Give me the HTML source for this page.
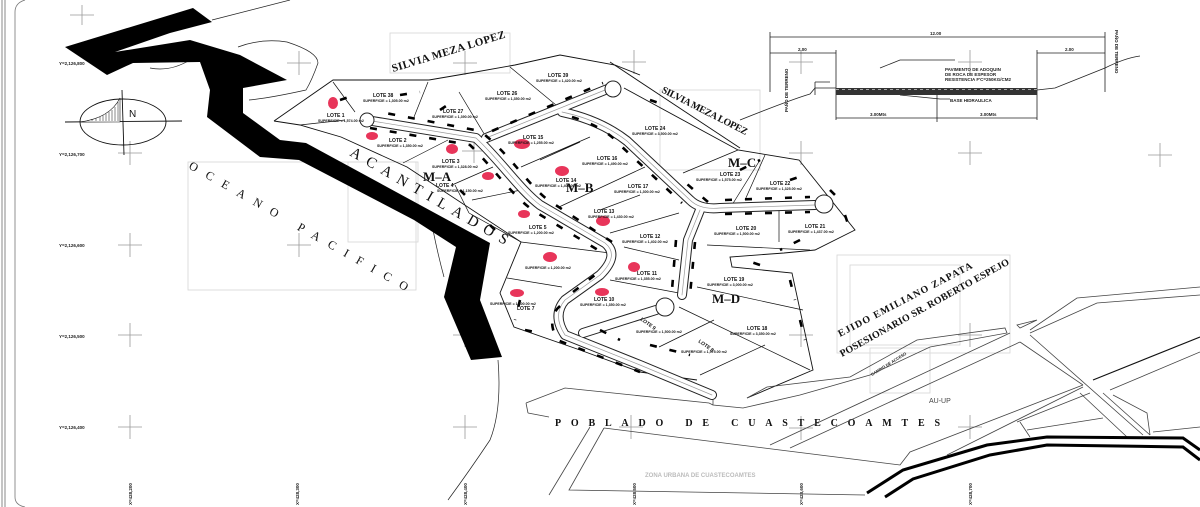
<!DOCTYPE html>
<html><head><meta charset="utf-8"><style>
html,body{margin:0;padding:0;background:#fff;}
svg{display:block;font-family:"Liberation Sans",sans-serif;}
.s{font-family:"Liberation Serif",serif;font-weight:bold;}
.l{font-size:5px;font-weight:bold;}
.sp{font-size:3.6px;font-weight:bold;}
</style></head><body>
<svg width="1200" height="507" viewBox="0 0 1200 507" xmlns="http://www.w3.org/2000/svg">
<rect width="1200" height="507" fill="#fff"/>
<line x1="2" y1="0" x2="2" y2="507" stroke="#888" stroke-width="1"/>
<line x1="5" y1="0" x2="5" y2="507" stroke="#888" stroke-width="1"/>
<path d="M25,0 Q15,3 15,12 L15,497 Q15,505 25,507" fill="none" stroke="#777" stroke-width="0.8"/>

<g fill="none" stroke="#d6d6d6" stroke-width="0.8">
<rect x="188" y="162" width="228" height="128"/>
<rect x="348" y="162" width="70" height="80"/>
<rect x="390" y="33" width="120" height="40"/>
<rect x="660" y="90" width="100" height="80"/>
<rect x="837" y="255" width="173" height="98"/>
<rect x="850" y="265" width="110" height="80"/>
<rect x="870" y="348" width="60" height="45"/>
</g>

<g stroke="#999" stroke-width="0.8">
<path d="M70,15h24M82,5v20 M287,63h24M299,51v24 M453,63h24M465,51v24 M118,153h24M130,141v24 M118,245h24M130,233v24 M287,245h24M299,233v24 M118,335h24M130,323v24 M453,335h24M465,323v24 M118,427h24M130,415v24 M453,427h24M465,415v24 M622,62h24M634,50v24 M789,62h24M801,50v24 M958,62h24M970,50v24 M789,153h24M801,141v24 M958,153h24M970,141v24 M789,335h24M801,323v24 M958,335h24M970,323v24 M619,427h24M631,415v24 M789,428h24M801,416v24 M958,427h24M970,415v24 M1148,155h24M1160,143v24 M462,151h24M474,139v24"/>
</g>

<g font-size="4.5" font-weight="bold" fill="#222">
<text x="59" y="65">Y=2,126,800</text>
<text x="59" y="156">Y=2,126,700</text>
<text x="59" y="247">Y=2,126,600</text>
<text x="59" y="338">Y=2,126,500</text>
<text x="59" y="429">Y=2,126,400</text>
<text transform="translate(132,505) rotate(-90)">X=428,200</text>
<text transform="translate(299,505) rotate(-90)">X=428,300</text>
<text transform="translate(467,505) rotate(-90)">X=428,400</text>
<text transform="translate(636,505) rotate(-90)">X=428,500</text>
<text transform="translate(803,505) rotate(-90)">X=428,600</text>
<text transform="translate(972,505) rotate(-90)">X=428,700</text>
</g>

<ellipse cx="123" cy="122" rx="43" ry="23" fill="none" stroke="#111" stroke-width="0.9"/>
<line x1="122" y1="90" x2="124" y2="155" stroke="#111" stroke-width="0.9"/>
<line x1="65" y1="122" x2="182" y2="121" stroke="#111" stroke-width="0.9"/>
<path d="M80,122 Q110,118 120,98 L120,122 Z" fill="#fff" stroke="#111" stroke-width="0.6"/>
<g stroke="#111" stroke-width="0.5">
<path d="M88,121v-1 M92,121v-2 M96,121v-3 M100,121v-4 M103,121v-6 M106,121v-7 M109,121v-9 M112,121v-11 M115,121v-14 M118,121v-19"/>
</g>
<text x="129" y="117" font-size="10" fill="#111">N</text>

<g fill="none" stroke="#222" stroke-width="0.7">
<path d="M212,20 L290,0"/>
<path d="M238,47 Q262,38 287,42 Q318,52 318,63 Q312,80 306,90 Q270,98 249,100"/>
<path d="M150,68 Q170,72 190,60"/>
<path d="M498,360 Q502,410 490,440 Q470,470 448,500"/>
<path d="M433,230 Q438,255 444,277"/>
</g>

<path d="M65,47 L193,8 L212,22 L170,33 L115,52 L190,40 L240,55 L287,80 L243,88 L243,113 L280,140 L306,143 L490,243 L480,300 L502,357 L471,360 L444,297 L456,247 L414,220 L299,160 L260,157 L207,117 L210,90 L200,62 L133,63 L107,75 Z" fill="#000"/>

<g fill="none" stroke="#111" stroke-width="0.9">
<path d="M274,121 L333,80 L429,80 L470,73 L515,65 L560,55 L615,65 L640,75 M624,88 L738,150 L799,160 L855,230 L815,250 L784,253 L730,257 L732,267 L792,273 L813,370 L747,398 M697,380 L640,372 L580,350 L514,327 L500,293 L521,242 L407,167 L341,137 L300,125 L274,121"/>
<path d="M610,62 L740,148"/>
</g>
<g fill="none" stroke="#111" stroke-width="0.7">
<path d="M333,82 L355,112 M428,82 L414,117 M459,92 L486,137 M510,67 L562,110 M403,163 L448,140 M452,185 L493,167 M455,185 L469,213 M472,200 L521,190 M469,213 L521,242 M521,167 L590,137 M559,207 L645,167 M610,233 L679,213 M624,247 L679,260 M610,280 L679,293 M683,173 L738,150 M765,155 L745,200 M779,210 L779,242 M707,245 L810,250 M697,287 L803,310 M679,307 L810,370 M714,320 L659,347 M765,345 L700,375 M521,242 L610,253 M507,278 L562,287 M300,125 L345,120 M540,160 L580,142 M600,210 L640,195 M732,205 L760,160"/>
</g>

<g fill="none" stroke-linecap="round" stroke-linejoin="round">
<g stroke="#222" stroke-width="10">
<path d="M366,120 L476,138 C500,160 520,190 540,205 L605,243 Q620,255 600,275 L565,300 Q552,315 565,335 L640,365 L712,395"/>
<path d="M486,138 L610,88"/>
<path d="M562,112 Q600,120 627,141 L690,200 Q700,210 720,208 L815,205"/>
<path d="M700,210 L688,240 L682,295"/>
<path d="M656,310 L583,333"/>
</g>
<g stroke="#fff" stroke-width="8">
<path d="M366,120 L476,138 C500,160 520,190 540,205 L605,243 Q620,255 600,275 L565,300 Q552,315 565,335 L640,365 L712,395"/>
<path d="M486,138 L610,88"/>
<path d="M562,112 Q600,120 627,141 L690,200 Q700,210 720,208 L815,205"/>
<path d="M700,210 L688,240 L682,295"/>
<path d="M656,310 L583,333"/>
</g>
<g stroke="#999" stroke-width="0.7">
<path d="M366,120 L476,138 C500,160 520,190 540,205 L605,243 Q620,255 600,275 L565,300 Q552,315 565,335 L640,365 L712,395"/>
<path d="M486,138 L610,88"/>
<path d="M562,112 Q600,120 627,141 L690,200 Q700,210 720,208 L815,205"/>
<path d="M700,210 L688,240 L682,295"/>
</g>
</g>
<g fill="#fff" stroke="#222" stroke-width="1">
<circle cx="367" cy="120" r="7"/><circle cx="613" cy="89" r="8"/><circle cx="824" cy="204" r="9"/><circle cx="665" cy="307" r="9"/>
</g>
<g fill="none" stroke="#000" stroke-width="2.6" stroke-dasharray="7 13">
<path d="M370,128 L470,145 C492,166 512,196 534,211 L598,250 M612,242 L548,200 C528,185 508,152 480,131 L380,112"/>
<path d="M572,117 Q605,127 620,145 L682,203 M708,202 L680,178 M695,242 L690,295 M676,240 L672,290 M725,214 L810,212 M725,200 L810,197"/>
<path d="M560,306 Q546,318 557,340 L640,372 M573,292 L595,275 M492,131 L603,83"/>
<path d="M340,100 L355,95 M400,95 L420,92 M440,110 L455,100 M650,100 L665,105 M740,170 L760,160 M790,180 L805,175 M830,190 L840,200 M845,215 L850,230 M800,240 L780,250 M760,265 L745,260 M790,280 L795,300 M800,320 L805,340 M520,300 L515,320 M525,330 L540,333 M460,190 L470,200 M490,225 L500,235 M600,330 L620,340 M650,345 L690,355"/>
</g>

<g fill="#e8355a">
<ellipse cx="333" cy="103" rx="5" ry="6"/><ellipse cx="372" cy="136" rx="6" ry="4"/>
<ellipse cx="452" cy="149" rx="6" ry="5"/><ellipse cx="488" cy="176" rx="6" ry="4"/>
<ellipse cx="522" cy="144" rx="8" ry="5"/><ellipse cx="562" cy="171" rx="7" ry="5"/>
<ellipse cx="524" cy="214" rx="6" ry="4"/><ellipse cx="603" cy="221" rx="7" ry="5"/>
<ellipse cx="550" cy="257" rx="7" ry="5"/><ellipse cx="634" cy="267" rx="6" ry="5"/>
<ellipse cx="517" cy="293" rx="7" ry="4"/><ellipse cx="602" cy="292" rx="7" ry="4"/>
</g>

<g fill="#111">
<text class="l" x="327" y="117">LOTE 1</text><text class="sp" x="318" y="122">SUPERFICIE = 1,574.00 m2</text>
<text class="l" x="373" y="97">LOTE 38</text><text class="sp" x="363" y="102">SUPERFICIE = 1,305.00 m2</text>
<text class="l" x="389" y="142">LOTE 2</text><text class="sp" x="377" y="147">SUPERFICIE = 1,350.00 m2</text>
<text class="l" x="443" y="113">LOTE 27</text><text class="sp" x="432" y="118">SUPERFICIE = 1,390.00 m2</text>
<text class="l" x="497" y="95">LOTE 26</text><text class="sp" x="485" y="100">SUPERFICIE = 1,350.00 m2</text>
<text class="l" x="548" y="77">LOTE 39</text><text class="sp" x="536" y="82">SUPERFICIE = 1,420.00 m2</text>
<text class="l" x="442" y="163">LOTE 3</text><text class="sp" x="432" y="168">SUPERFICIE = 1,328.00 m2</text>
<text class="l" x="436" y="187">LOTE 4</text><text class="sp" x="437" y="192">SUPERFICIE = 1,150.00 m2</text>
<text class="l" x="523" y="139">LOTE 15</text><text class="sp" x="508" y="144">SUPERFICIE = 1,255.00 m2</text>
<text class="l" x="556" y="182">LOTE 14</text><text class="sp" x="535" y="187">SUPERFICIE = 1,400.00 m2</text>
<text class="l" x="597" y="160">LOTE 16</text><text class="sp" x="582" y="165">SUPERFICIE = 1,490.00 m2</text>
<text class="l" x="628" y="188">LOTE 17</text><text class="sp" x="614" y="193">SUPERFICIE = 1,300.00 m2</text>
<text class="l" x="594" y="213">LOTE 13</text><text class="sp" x="588" y="218">SUPERFICIE = 1,430.00 m2</text>
<text class="l" x="529" y="229">LOTE 5</text><text class="sp" x="508" y="234">SUPERFICIE = 1,200.00 m2</text>
<text class="l" x="640" y="238">LOTE 12</text><text class="sp" x="622" y="243">SUPERFICIE = 1,402.00 m2</text>
<text class="l" x="637" y="275">LOTE 11</text><text class="sp" x="615" y="280">SUPERFICIE = 1,355.00 m2</text>
<text class="sp" x="525" y="269">SUPERFICIE = 1,200.00 m2</text>
<text class="l" x="594" y="301">LOTE 10</text><text class="sp" x="580" y="306">SUPERFICIE = 1,350.00 m2</text>
<text class="l" x="517" y="310">LOTE 7</text><text class="sp" x="490" y="305">SUPERFICIE = 1,300.00 m2</text>
<text class="l" x="645" y="130">LOTE 24</text><text class="sp" x="632" y="135">SUPERFICIE = 3,500.00 m2</text>
<text class="l" x="720" y="176">LOTE 23</text><text class="sp" x="696" y="181">SUPERFICIE = 1,575.00 m2</text>
<text class="l" x="770" y="185">LOTE 22</text><text class="sp" x="756" y="190">SUPERFICIE = 1,325.00 m2</text>
<text class="l" x="736" y="230">LOTE 20</text><text class="sp" x="714" y="235">SUPERFICIE = 1,500.00 m2</text>
<text class="l" x="805" y="228">LOTE 21</text><text class="sp" x="788" y="233">SUPERFICIE = 1,437.00 m2</text>
<text class="l" x="724" y="281">LOTE 19</text><text class="sp" x="707" y="286">SUPERFICIE = 3,000.00 m2</text>
<text class="l" x="747" y="330">LOTE 18</text><text class="sp" x="730" y="335">SUPERFICIE = 3,350.00 m2</text>
<text class="sp" x="636" y="333">SUPERFICIE = 1,500.00 m2</text>
<text class="sp" x="681" y="353">SUPERFICIE = 1,575.00 m2</text>
<text class="l" transform="translate(640,320) rotate(35)">LOTE 9</text>
<text class="l" transform="translate(698,342) rotate(35)">LOTE 8</text>
</g>
<g class="s" fill="#111" font-size="13">
<text x="423" y="181">M–A</text>
<text x="566" y="192">M–B</text>
<text x="728" y="167">M–C</text>
<text x="712" y="303">M–D</text>
</g>

<g class="s" fill="#111">
<text transform="translate(393,72) rotate(-17)" font-size="11" textLength="118" lengthAdjust="spacing">SILVIA MEZA LOPEZ</text>
<text transform="translate(661,92) rotate(27)" font-size="10" textLength="95" lengthAdjust="spacing">SILVIA MEZA LOPEZ</text>
<text transform="translate(188,168) rotate(29.5)" font-size="12" font-weight="normal" textLength="250" lengthAdjust="spacing">OCEANO PACIFICO</text>
<text transform="translate(349,155) rotate(30)" font-size="15" font-weight="normal" textLength="180" lengthAdjust="spacing">ACANTILADOS</text>
<text transform="translate(840,337) rotate(-27.5)" font-size="10" textLength="150" lengthAdjust="spacing">EJIDO EMILIANO ZAPATA</text>
<text transform="translate(842,357) rotate(-29)" font-size="10" textLength="192" lengthAdjust="spacing">POSESIONARIO SR. ROBERTO ESPEJO</text>
<text x="555" y="426" font-size="10" textLength="385" lengthAdjust="spacing">POBLADO DE CUASTECOAMTES</text>
</g>
<text x="929" y="403" font-size="7" fill="#444">AU-UP</text>
<text x="645" y="477" font-size="6" fill="#bbb" font-weight="bold">ZONA URBANA DE CUASTECOAMTES</text>
<text transform="translate(872,376) rotate(-32)" font-size="4" font-weight="bold" fill="#222">CAMINO DE ACCESO</text>

<!-- bottom roads / areas -->
<g fill="none" stroke="#444" stroke-width="0.8">
<path d="M526,403 L565,388 L709,403 L713,405 M528,413 L526,403 M528,413 L549,417"/>
<path d="M713,400 L713,405 L743,408 L800,395 L870,375 L930,347 L1007,333 L1005,328 L917,340 L850,377 L767,387 L747,398"/>
<path d="M1030,333 L1097,303 L1200,295"/>
<path d="M1030,330 L1077,298 L1200,287"/>
<path d="M1017,325 L1037,320 L1020,328 Z"/>
<path d="M590,427 L549,495"/>
<path d="M604,428 L569,490 L865,495 M604,428 L900,465 L910,452 L1083,385"/>
<path d="M770,445 L1010,333 M790,448 L1020,342"/>
<path d="M1030,335 L1143,435 M1020,342 L1083,385 M1080,393 L1127,437 M1103,393 L1150,435"/>
<path d="M1110,390 L1200,352"/>
<path d="M947,455 L1083,387 M1017,422 L1090,393 M1020,422 L1030,437 M1027,430 L1103,418 M1113,395 L1147,413 L1150,435 M1153,432 L1200,427"/>
</g>
<path d="M1093,380 L1200,337" stroke="#111" stroke-width="1.2" fill="none"/>
<g fill="none" stroke="#000" stroke-width="3">
<path d="M867,493 L903,470 L987,445 L1047,437 L1183,438 L1200,450"/>
<path d="M885,497 L913,479 L990,455 L1047,445 L1183,447 L1200,460"/>
</g>

<!-- cross-section -->
<g fill="none" stroke="#222" stroke-width="0.8">
<path d="M770,37 H1105 M770,32 V92 M1105,32 V92 M770,53 H836 M1037,53 H1105 M836,50 V120 M1037,50 V120 M836,118 H1037 M937,90 V122"/>
<path d="M740,120 Q790,100 810,94 L815,88 L836,88 M1037,90 L1055,88 L1105,68 Q1125,58 1140,56"/>
<path d="M815,82 V95 M815,82 H830 M880,68 L900,60 L955,60 M900,95 L940,99 L950,99"/>
</g>
<rect x="836" y="88" width="201" height="7" fill="#333"/>
<line x1="836" y1="89.5" x2="1037" y2="89.5" stroke="#ccc" stroke-width="0.8" stroke-dasharray="3 3"/>
<g font-size="4.5" font-weight="bold" fill="#222">
<text x="945" y="71">PAVIMENTO DE ADOQUIN</text>
<text x="945" y="76">DE ROCA DE ESPESOR</text>
<text x="945" y="81">RESISTENCIA F'C=250KG/CM2</text>
<text x="950" y="102">BASE HIDRAULICA</text>
<text x="930" y="35">12.00</text><text x="798" y="51">2.00</text><text x="1065" y="51">2.00</text>
<text x="870" y="116">3.00Mts</text><text x="980" y="116">3.00Mts</text>
<text transform="translate(788,112) rotate(-90)">PAÑO DE TERRENO</text>
<text transform="translate(1115,30) rotate(90)">PAÑO DE TERRENO</text>
</g>
</svg>
</body></html>
